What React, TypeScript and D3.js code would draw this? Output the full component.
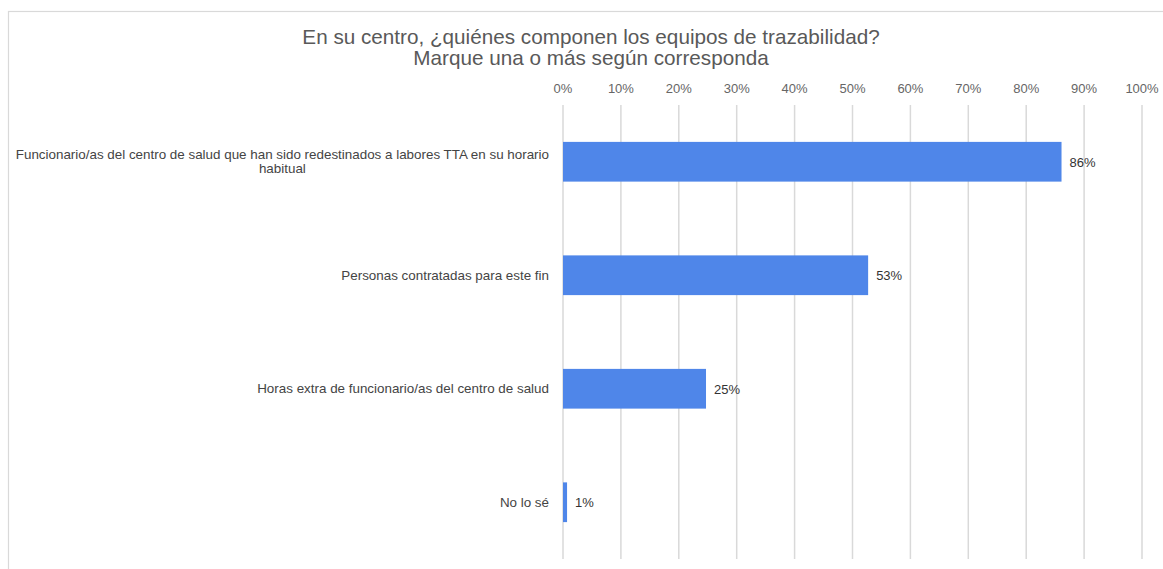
import React, { useEffect, useRef } from "react";
import * as d3 from "d3";

const titleLines = [
  "En su centro, ¿quiénes componen los equipos de trazabilidad?",
  "Marque una o más según corresponda",
];
const categories = [
  ["Funcionario/as del centro de salud que han sido redestinados a labores TTA en su horario", "habitual"],
  ["Personas contratadas para este fin"],
  ["Horas extra de funcionario/as del centro de salud"],
  ["No lo sé"],
];
const values = [86.1, 52.7, 24.7, 0.7];
const ticks = [0, 10, 20, 30, 40, 50, 60, 70, 80, 90, 100];

const W = 1163;
const H = 569;
const FONT = "'Liberation Sans', Arial, sans-serif";

export default function App() {
  const ref = useRef<SVGSVGElement>(null);

  useEffect(() => {
    const svg = d3.select(ref.current);
    svg.selectAll("*").remove();

    // frame (cropped box)
    svg.append("rect")
      .attr("x", 8.5).attr("y", 11.5)
      .attr("width", 1400).attr("height", 900)
      .attr("fill", "#fff").attr("stroke", "#d9d9d9").attr("stroke-width", 1.2);

    // title
    titleLines.forEach((t, i) => {
      svg.append("text")
        .attr("x", 591).attr("y", 44 + i * 21)
        .attr("text-anchor", "middle")
        .attr("font-family", FONT).attr("font-size", 20.7)
        .attr("fill", "#595959")
        .text(t);
    });

    const x = d3.scaleLinear().domain([0, 100]).range([563, 1142]);
    const y = d3.scaleBand<number>()
      .domain(categories.map((_, i) => i))
      .range([105, 559])
      .paddingInner(0.65)
      .paddingOuter(0.325);

    // gridlines
    svg.append("g").selectAll("line").data(ticks).join("line")
      .attr("x1", (d) => x(d)).attr("x2", (d) => x(d))
      .attr("y1", 105).attr("y2", 559)
      .attr("stroke", "#d9d9d9").attr("stroke-width", 1.5);

    // tick labels
    svg.append("g").selectAll("text").data(ticks).join("text")
      .attr("x", (d) => x(d)).attr("y", 93)
      .attr("text-anchor", "middle")
      .attr("font-family", FONT).attr("font-size", 13)
      .attr("fill", "#666")
      .text((d) => `${d}%`);

    // bars
    svg.append("g").selectAll("rect").data(values).join("rect")
      .attr("x", x(0))
      .attr("y", (_, i) => y(i)!)
      .attr("width", (d) => x(d) - x(0))
      .attr("height", y.bandwidth())
      .attr("fill", "#4f86e9");

    // value labels
    svg.append("g").selectAll("text").data(values).join("text")
      .attr("x", (d) => x(d) + 8)
      .attr("y", (_, i) => y(i)! + y.bandwidth() / 2 + 5)
      .attr("font-family", FONT).attr("font-size", 13)
      .attr("fill", "#333")
      .text((d) => `${Math.round(d)}%`);

    // category labels
    const right = 549;
    categories.forEach((lines, i) => {
      const cy = y(i)! + y.bandwidth() / 2;
      const lh = 14;
      const g = svg.append("g");
      const texts = lines.map((l, j) =>
        g.append("text")
          .attr("y", cy + (j - (lines.length - 1) / 2) * lh + 4.5)
          .attr("font-family", FONT).attr("font-size", 13.4)
          .attr("fill", "#444")
          .attr("text-anchor", "middle")
          .text(l)
      );
      const widths = texts.map((t) => (t.node() as SVGTextElement).getComputedTextLength());
      const maxW = Math.max(...widths);
      texts.forEach((t) => t.attr("x", right - maxW / 2));
    });
  }, []);

  return (
    <svg
      ref={ref}
      width={W}
      height={H}
      style={{ position: "absolute", left: 0, top: 0, background: "#fff" }}
    />
  );
}
